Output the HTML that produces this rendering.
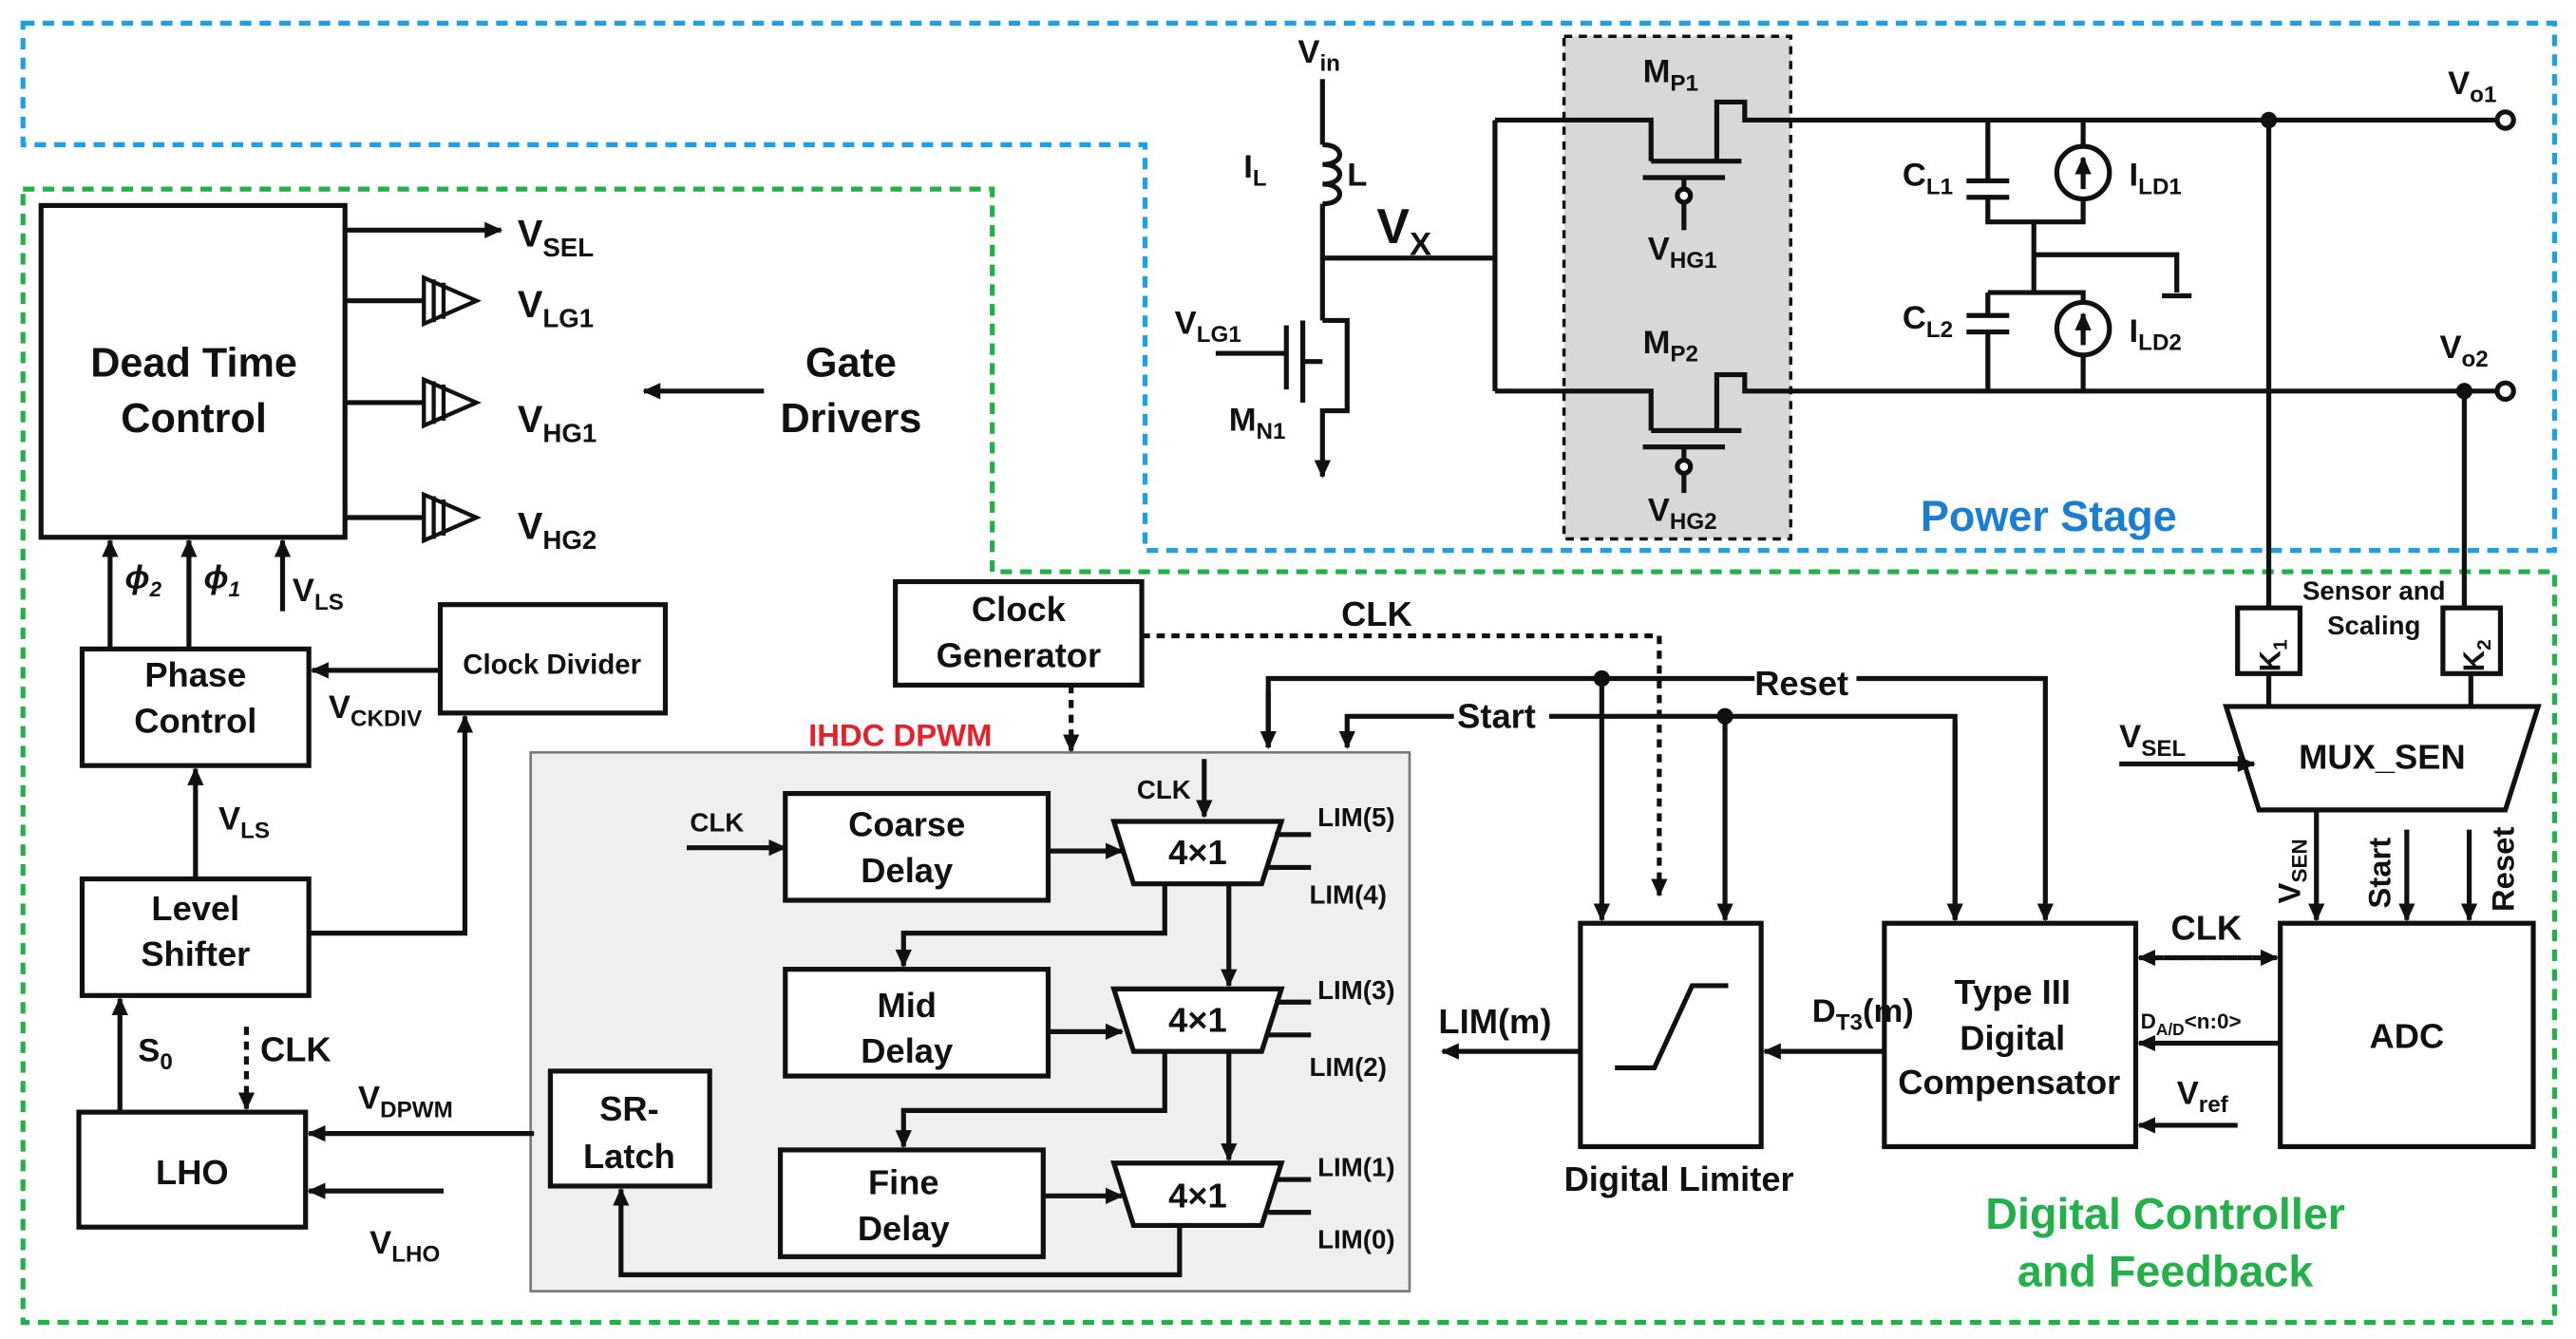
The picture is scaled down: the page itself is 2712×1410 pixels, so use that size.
<!DOCTYPE html>
<html><head><meta charset="utf-8"><style>
html,body{margin:0;padding:0;background:#fff;}
svg{display:block;}
text{font-family:"Liberation Sans",sans-serif;font-weight:bold;fill:#111;}
</style></head><body>
<svg width="2712" height="1410" viewBox="0 0 1568 815" xmlns="http://www.w3.org/2000/svg">
<defs>
<marker id="a" markerWidth="12" markerHeight="12" refX="10" refY="6" orient="auto" markerUnits="userSpaceOnUse"><path d="M0,1 L11,6 L0,11 Z" fill="#111"/></marker>
</defs>
<rect width="1568" height="815" fill="#fff"/>
<!-- borders -->
<path d="M14,14 H1555 V335 H697 V88 H14 Z" fill="none" stroke="#1ea0e8" stroke-width="3" stroke-dasharray="7,5"/>
<path d="M14,115 H604 V348 H1555 V805 H14 Z" fill="none" stroke="#22b04a" stroke-width="3" stroke-dasharray="7,5"/>
<!-- gray regions -->
<rect x="952" y="22" width="138" height="306" fill="#d8d8d8" stroke="#111" stroke-width="2" stroke-dasharray="5,4"/>
<rect x="323" y="458" width="535" height="328" fill="#efefef" stroke="#777" stroke-width="1.5"/>

<g stroke="#111" stroke-width="3" fill="none">
<!-- Dead time control -->
<rect x="25" y="125" width="185" height="202" fill="#fff"/>
<line x1="210" y1="140" x2="305" y2="140" marker-end="url(#a)"/>
<line x1="210" y1="183" x2="258" y2="183"/>
<line x1="210" y1="245" x2="258" y2="245"/>
<line x1="210" y1="315" x2="258" y2="315"/>
<line x1="465" y1="238" x2="392" y2="238" marker-end="url(#a)"/>
<!-- phi arrows -->
<line x1="67" y1="395" x2="67" y2="329" marker-end="url(#a)"/>
<line x1="115" y1="395" x2="115" y2="329" marker-end="url(#a)"/>
<line x1="172" y1="372" x2="172" y2="329" marker-end="url(#a)"/>
<rect x="50" y="395" width="138" height="71"/>
<rect x="268" y="368" width="137" height="66"/>
<line x1="268" y1="408" x2="190" y2="408" marker-end="url(#a)"/>
<rect x="50" y="535" width="138" height="71"/>
<line x1="119" y1="535" x2="119" y2="468" marker-end="url(#a)"/>
<polyline points="188,568 283,568 283,436" marker-end="url(#a)"/>
<rect x="48" y="677" width="138" height="70"/>
<line x1="73" y1="677" x2="73" y2="608" marker-end="url(#a)"/>
<line x1="150" y1="625" x2="150" y2="675" stroke-dasharray="5,4" marker-end="url(#a)"/>
<line x1="325" y1="690" x2="188" y2="690" marker-end="url(#a)"/>
<line x1="270" y1="725" x2="188" y2="725" marker-end="url(#a)"/>

<!-- clock generator -->
<rect x="545" y="354" width="150" height="63" fill="#fff"/>
<line x1="652" y1="417" x2="652" y2="457" stroke-dasharray="5,4" marker-end="url(#a)"/>
<polyline points="695,387 1010,387 1010,545" stroke-dasharray="5,4" marker-end="url(#a)"/>

<!-- DPWM -->
<rect x="478" y="483" width="160" height="65" fill="#fff"/>
<line x1="418" y1="516" x2="478" y2="516" marker-end="url(#a)"/>
<polygon points="678,500 780,500 768,538 690,538" fill="#fff"/>
<line x1="638" y1="518" x2="683" y2="518" marker-end="url(#a)"/>
<line x1="733" y1="462" x2="733" y2="497" marker-end="url(#a)"/>
<line x1="776" y1="508" x2="798" y2="508"/>
<line x1="772" y1="528" x2="798" y2="528"/>
<polyline points="709,538 709,568 550,568 550,588" marker-end="url(#a)"/>
<line x1="748" y1="538" x2="748" y2="600" marker-end="url(#a)"/>
<rect x="478" y="590" width="160" height="65" fill="#fff"/>
<polygon points="678,602 780,602 768,640 690,640" fill="#fff"/>
<line x1="638" y1="628" x2="683" y2="628" marker-end="url(#a)"/>
<line x1="776" y1="610" x2="798" y2="610"/>
<line x1="772" y1="630" x2="798" y2="630"/>
<polyline points="709,640 709,676 550,676 550,698" marker-end="url(#a)"/>
<line x1="748" y1="640" x2="748" y2="706" marker-end="url(#a)"/>
<rect x="475" y="700" width="160" height="65" fill="#fff"/>
<polygon points="678,708 780,708 768,746 690,746" fill="#fff"/>
<line x1="635" y1="728" x2="683" y2="728" marker-end="url(#a)"/>
<line x1="776" y1="718" x2="798" y2="718"/>
<line x1="772" y1="738" x2="798" y2="738"/>
<polyline points="718,746 718,776 378,776 378,724" marker-end="url(#a)"/>
<rect x="335" y="652" width="97" height="70" fill="#fff"/>

<!-- limiter, compensator, adc -->
<rect x="962" y="562" width="110" height="136"/>
<polyline points="983,650 1007,650 1030,600 1052,600"/>
<line x1="962" y1="640" x2="878" y2="640" marker-end="url(#a)"/>
<rect x="1147" y="562" width="153" height="136"/>
<line x1="1147" y1="640" x2="1074" y2="640" marker-end="url(#a)"/>
<rect x="1388" y="562" width="154" height="136"/>
<line x1="1312" y1="583" x2="1386" y2="583" stroke-dasharray="5,4" marker-end="url(#a)"/>
<line x1="1376" y1="583" x2="1302" y2="583" stroke-dasharray="5,4" marker-end="url(#a)"/>
<line x1="1388" y1="635" x2="1302" y2="635" marker-end="url(#a)"/>
<line x1="1362" y1="685" x2="1302" y2="685" marker-end="url(#a)"/>

<!-- reset/start -->
<polyline points="772,455 772,413 1245,413 1245,560" marker-end="url(#a)"/>
<line x1="772" y1="420" x2="772" y2="455" marker-end="url(#a)"/>
<line x1="975" y1="413" x2="975" y2="560" marker-end="url(#a)"/>
<polyline points="1190,560 1190,436 820,436 820,455" marker-end="url(#a)"/>
<line x1="1190" y1="440" x2="1190" y2="560" marker-end="url(#a)"/>
<line x1="1050" y1="436" x2="1050" y2="560" marker-end="url(#a)"/>

<!-- sensor / mux_sen -->
<polygon points="1355,430 1545,430 1525,493 1375,493" fill="#fff"/>
<rect x="1362" y="370" width="38" height="40" fill="#fff"/>
<rect x="1487" y="370" width="35" height="40" fill="#fff"/>
<line x1="1381" y1="73" x2="1381" y2="370"/>
<line x1="1381" y1="410" x2="1381" y2="430"/>
<line x1="1500" y1="238" x2="1500" y2="370"/>
<line x1="1504" y1="410" x2="1504" y2="430"/>
<line x1="1290" y1="465" x2="1372" y2="465" marker-end="url(#a)"/>
<line x1="1410" y1="493" x2="1410" y2="560" marker-end="url(#a)"/>
<line x1="1465" y1="505" x2="1465" y2="560" marker-end="url(#a)"/>
<line x1="1503" y1="505" x2="1503" y2="560" marker-end="url(#a)"/>

<!-- power stage -->
<line x1="805" y1="48" x2="805" y2="88"/>
<path d="M805,88 c14,0 14,12 0,12 c14,0 14,12 0,12 c14,0 14,12 0,12" />
<line x1="805" y1="124" x2="805" y2="195"/>
<line x1="805" y1="157" x2="910" y2="157"/>
<line x1="910" y1="73" x2="910" y2="238"/>
<!-- MN1 -->
<polyline points="805,195 820,195 820,250 805,250 805,290" marker-end="url(#a)"/>
<line x1="783" y1="198" x2="783" y2="237"/>
<line x1="793" y1="195" x2="793" y2="245"/>
<line x1="793" y1="220" x2="805" y2="220"/>
<line x1="740" y1="215" x2="783" y2="215"/>
<!-- MP1 -->
<polyline points="910,73 1005,73 1005,98"/>
<line x1="1005" y1="98" x2="1060" y2="98"/>
<line x1="1000" y1="108" x2="1050" y2="108"/>
<polyline points="1045,98 1045,62 1062,62 1062,73 1520,73"/>
<line x1="1025" y1="108" x2="1025" y2="115"/>
<circle cx="1025" cy="119" r="4" fill="#fff"/>
<line x1="1025" y1="123" x2="1025" y2="140"/>
<!-- MP2 -->
<polyline points="910,238 1005,238 1005,262"/>
<line x1="1005" y1="262" x2="1060" y2="262"/>
<line x1="1000" y1="272" x2="1050" y2="272"/>
<polyline points="1045,262 1045,228 1062,228 1062,238 1520,238"/>
<line x1="1025" y1="272" x2="1025" y2="280"/>
<circle cx="1025" cy="284" r="4" fill="#fff"/>
<line x1="1025" y1="288" x2="1025" y2="300"/>
<!-- caps & sources -->
<polyline points="1210,73 1210,110"/><line x1="1197" y1="110" x2="1223" y2="110"/><line x1="1197" y1="120" x2="1223" y2="120"/>
<polyline points="1210,120 1210,135 1268,135 1268,122"/>
<line x1="1268" y1="73" x2="1268" y2="89"/>
<circle cx="1268" cy="105" r="16"/>
<line x1="1268" y1="115" x2="1268" y2="96" marker-end="url(#a)"/>
<line x1="1238" y1="135" x2="1238" y2="178"/>
<polyline points="1238,155 1325,155 1325,178"/>
<line x1="1316" y1="180" x2="1334" y2="180"/>
<polyline points="1210,178 1268,178 1268,184"/>
<line x1="1210" y1="178" x2="1210" y2="192"/><line x1="1197" y1="192" x2="1223" y2="192"/><line x1="1197" y1="202" x2="1223" y2="202"/>
<line x1="1210" y1="202" x2="1210" y2="238"/>
<circle cx="1268" cy="200" r="16"/>
<line x1="1268" y1="210" x2="1268" y2="191" marker-end="url(#a)"/>
<line x1="1268" y1="216" x2="1268" y2="238"/>
<circle cx="1525" cy="73" r="5" fill="#fff"/>
<circle cx="1525" cy="238" r="5" fill="#fff"/>
</g>
<circle cx="1381" cy="73" r="5" fill="#111"/>
<circle cx="1500" cy="238" r="5" fill="#111"/>
<circle cx="975" cy="413" r="5" fill="#111"/>
<circle cx="1050" cy="436" r="5" fill="#111"/>

<!-- gate driver symbols -->
<g stroke="#111" stroke-width="2.5" fill="#fff">
<polygon points="258,169 290,183 258,197"/><line x1="264" y1="170" x2="264" y2="196"/><line x1="270" y1="172" x2="270" y2="194"/>
<polygon points="258,231 290,245 258,259"/><line x1="264" y1="232" x2="264" y2="258"/><line x1="270" y1="234" x2="270" y2="256"/>
<polygon points="258,301 290,315 258,329"/><line x1="264" y1="302" x2="264" y2="328"/><line x1="270" y1="304" x2="270" y2="326"/>
</g>

<!-- text -->
<g font-size="25" text-anchor="middle">
<text x="118" y="229">Dead Time</text>
<text x="118" y="263">Control</text>
<text x="518" y="229">Gate</text>
<text x="518" y="263">Drivers</text>
</g>
<g font-size="21" text-anchor="middle">
<text x="119" y="418">Phase</text><text x="119" y="446">Control</text>
<text x="119" y="560">Level</text><text x="119" y="588">Shifter</text>
<text x="117" y="721">LHO</text>
<text x="620" y="378">Clock</text><text x="620" y="406">Generator</text>
<text x="552" y="509">Coarse</text><text x="552" y="537">Delay</text>
<text x="552" y="619">Mid</text><text x="552" y="647">Delay</text>
<text x="550" y="727">Fine</text><text x="550" y="755">Delay</text>
<text x="383" y="682">SR-</text><text x="383" y="711">Latch</text>
<text x="729" y="526">4×1</text><text x="729" y="628">4×1</text><text x="729" y="735">4×1</text>
<text x="1022" y="725">Digital Limiter</text>
<text x="1225" y="611">Type III</text><text x="1225" y="639">Digital</text><text x="1223" y="666">Compensator</text>
<text x="1465" y="638">ADC</text>
<text x="1450" y="468">MUX_SEN</text>
<text x="838" y="381">CLK</text>
<text x="1343" y="572">CLK</text>
<text x="180" y="646">CLK</text>
<text x="910" y="629">LIM(m)</text>
</g>
<text x="336" y="410" font-size="17" text-anchor="middle">Clock Divider</text>
<text x="548" y="454" font-size="19" fill="#e8202a" style="fill:#e8202a" text-anchor="middle">IHDC DPWM</text>
<text x="1247" y="323" font-size="26" style="fill:#1a7fd0" text-anchor="middle">Power Stage</text>
<text x="1318" y="748" font-size="27" style="fill:#22b04a" text-anchor="middle">Digital Controller</text>
<text x="1318" y="783" font-size="27" style="fill:#22b04a" text-anchor="middle">and Feedback</text>
<text x="1445" y="365" font-size="16" text-anchor="middle">Sensor and</text>
<text x="1445" y="386" font-size="16" text-anchor="middle">Scaling</text>
<g font-size="16">
<text x="420" y="506">CLK</text>
<text x="692" y="486">CLK</text>
<text x="802" y="503">LIM(5)</text><text x="797" y="550">LIM(4)</text>
<text x="802" y="608">LIM(3)</text><text x="797" y="655">LIM(2)</text>
<text x="802" y="716">LIM(1)</text><text x="802" y="760">LIM(0)</text>
</g>
<rect x="1068" y="402" width="62" height="22" fill="#fff"/>
<text x="1068" y="423" font-size="21">Reset</text>
<rect x="885" y="425" width="58" height="22" fill="#fff"/>
<text x="887" y="443" font-size="21">Start</text>

<g font-size="23">
<text x="315" y="150">V<tspan font-size="16" dy="6">SEL</tspan></text>
<text x="315" y="193">V<tspan font-size="16" dy="6">LG1</tspan></text>
<text x="315" y="263">V<tspan font-size="16" dy="6">HG1</tspan></text>
<text x="315" y="328">V<tspan font-size="16" dy="6">HG2</tspan></text>
</g>
<g font-size="20">
<text x="76" y="358" font-style="italic">ϕ<tspan font-size="13" dy="5">2</tspan></text>
<text x="124" y="358" font-style="italic">ϕ<tspan font-size="13" dy="5">1</tspan></text>
<text x="178" y="366">V<tspan font-size="14" dy="5">LS</tspan></text>
<text x="200" y="437">V<tspan font-size="14" dy="5">CKDIV</tspan></text>
<text x="133" y="505">V<tspan font-size="14" dy="5">LS</tspan></text>
<text x="84" y="646">S<tspan font-size="14" dy="5">0</tspan></text>
<text x="218" y="675">V<tspan font-size="14" dy="5">DPWM</tspan></text>
<text x="225" y="763">V<tspan font-size="14" dy="5">LHO</tspan></text>
<text x="1103" y="622">D<tspan font-size="14" dy="5">T3</tspan><tspan dy="-5">(m)</tspan></text>
<text x="1325" y="672">V<tspan font-size="14" dy="5">ref</tspan></text>
<text x="1290" y="455">V<tspan font-size="14" dy="5">SEL</tspan></text>
<text x="1000" y="50">M<tspan font-size="14" dy="5">P1</tspan></text>
<text x="1003" y="158">V<tspan font-size="14" dy="5">HG1</tspan></text>
<text x="1000" y="215">M<tspan font-size="14" dy="5">P2</tspan></text>
<text x="1003" y="317">V<tspan font-size="14" dy="5">HG2</tspan></text>
<text x="790" y="38">V<tspan font-size="14" dy="5">in</tspan></text>
<text x="757" y="108">I<tspan font-size="14" dy="5">L</tspan></text>
<text x="820" y="113">L</text>
<text x="715" y="203">V<tspan font-size="14" dy="5">LG1</tspan></text>
<text x="748" y="262">M<tspan font-size="14" dy="5">N1</tspan></text>
<text x="1158" y="113">C<tspan font-size="14" dy="5">L1</tspan></text>
<text x="1296" y="113">I<tspan font-size="14" dy="5">LD1</tspan></text>
<text x="1158" y="200">C<tspan font-size="14" dy="5">L2</tspan></text>
<text x="1296" y="208">I<tspan font-size="14" dy="5">LD2</tspan></text>
<text x="1490" y="57">V<tspan font-size="14" dy="5">o1</tspan></text>
<text x="1485" y="218">V<tspan font-size="14" dy="5">o2</tspan></text>
</g>
<text x="838" y="148" font-size="30">V<tspan font-size="20" dy="7">X</tspan></text>
<text x="1303" y="626" font-size="13">D<tspan font-size="10" dy="4">A/D</tspan><tspan dy="-4">&lt;n:0&gt;</tspan></text>
<text transform="translate(1388,399) rotate(-90)" font-size="18" text-anchor="middle">K<tspan font-size="12" dy="4">1</tspan></text>
<text transform="translate(1512,399) rotate(-90)" font-size="18" text-anchor="middle">K<tspan font-size="12" dy="4">2</tspan></text>
<text transform="translate(1400,550) rotate(-90)" font-size="19">V<tspan font-size="13" dy="4">SEN</tspan></text>
<text transform="translate(1455,553) rotate(-90)" font-size="19">Start</text>
<text transform="translate(1530,555) rotate(-90)" font-size="19">Reset</text>
</svg>
</body></html>
